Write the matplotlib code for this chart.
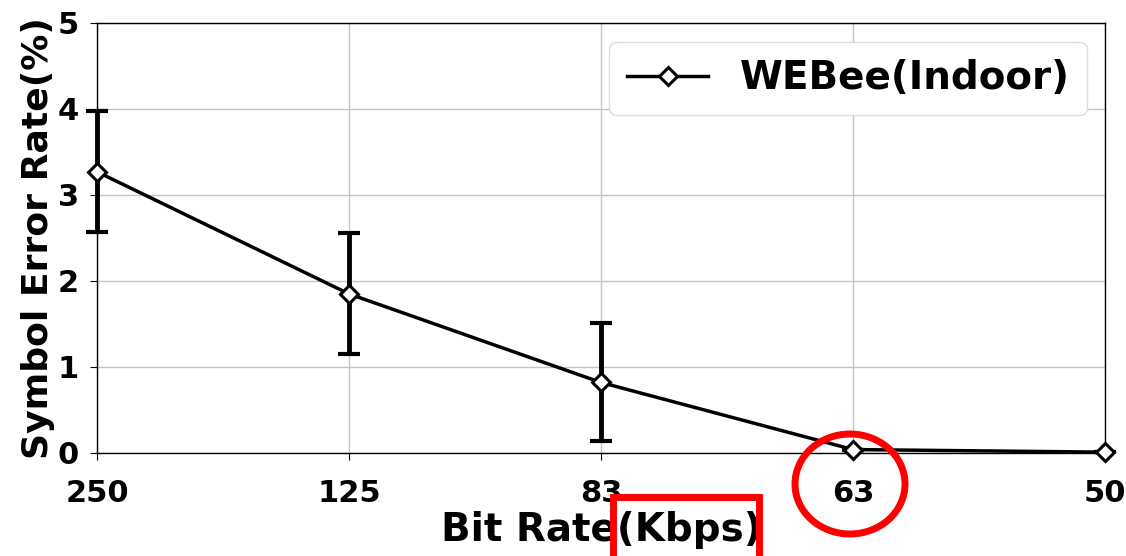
import numpy as np
from matplotlib import pyplot as plt
from matplotlib.patches import Ellipse, Rectangle

rates = ["250", "125", "83", "63", "50"]
ser = [3.27, 1.85, 0.82, 0.04, 0.01]
err_low = [0.70, 0.70, 0.68, 0.0, 0.0]
err_high = [0.71, 0.71, 0.69, 0.0, 0.0]

plt.rcParams["font.family"] = "DejaVu Sans"
plt.rcParams["font.weight"] = "bold"

fig = plt.figure(figsize=(11.26, 5.56), dpi=100)
ax = fig.add_axes([97/1126, 103/556, 1008/1126, 430/556])

x = np.arange(len(rates))
ax.errorbar(x, ser, yerr=[err_low, err_high], fmt="none",
            ecolor="black", elinewidth=3.5, capsize=8, capthick=3,
            clip_on=False, zorder=3)
ax.plot(x, ser, color="black", lw=2.5, marker="D", markersize=9,
        markerfacecolor="white", markeredgewidth=2.2,
        label="WEBee(Indoor)", clip_on=False, zorder=4)

ax.set_xlim(0, 4)
ax.set_ylim(0, 5)
ax.set_xticks(x)
ax.set_xticklabels(rates)
ax.set_yticks(range(6))
ax.tick_params(labelsize=22, length=5)
ax.tick_params(axis="x", pad=14)
ax.tick_params(axis="y", pad=8)
for lab in ax.get_xticklabels() + ax.get_yticklabels():
    lab.set_fontweight("bold")
ax.grid(True, color="#c4c4c4", lw=1)
ax.set_axisbelow(True)
for s in ax.spines.values():
    s.set_linewidth(1.0)

ax.set_xlabel("Bit Rate(Kbps)", fontsize=28, fontweight="bold", labelpad=2)
ax.set_ylabel("Symbol Error Rate(%)", fontsize=26, fontweight="bold", labelpad=2)

leg = ax.legend(loc="upper right", fontsize=28, handlelength=2.1, handletextpad=0.8,
                borderpad=0.45, borderaxespad=0, framealpha=1, edgecolor="#dddddd",
                bbox_to_anchor=(990/1008, 1 - 19/430))
for t in leg.get_texts():
    t.set_fontweight("bold")

# red highlights
fig.patches.append(Ellipse((850/1126, 1 - 484/556), 110/1126, 100/556,
                           transform=fig.transFigure, fill=False,
                           edgecolor="red", lw=5))
fig.patches.append(Rectangle((613/1126, -0.05), 146/1126, 1 - 497/556 + 0.05,
                             transform=fig.transFigure, fill=False,
                             edgecolor="red", lw=5))

fig.savefig("out.png", dpi=100)
